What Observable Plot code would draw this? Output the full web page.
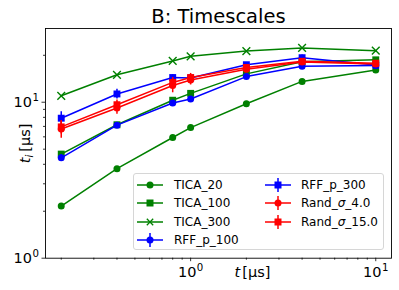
<!DOCTYPE html>
<html><head><meta charset="utf-8">
<script src="https://cdn.jsdelivr.net/npm/d3@7"></script>
<script src="https://cdn.jsdelivr.net/npm/@observablehq/plot@0.6"></script>
<style>
body{margin:0;background:#fff;}
#wrap{position:relative;width:399px;height:290px;font-family:"DejaVu Sans",sans-serif;}
#legend{position:absolute;left:133px;top:173px;width:251px;height:77px;border:1px solid #d6d6d6;border-radius:3px;background:rgba(255,255,255,0.8);box-sizing:border-box;}
.item{position:absolute;height:18px;line-height:18px;font-size:12px;color:#000;white-space:nowrap;}
.item svg{position:absolute;top:2px;}
</style></head><body><div id="wrap"></div>
<script>
// ---- data ----
const xs = [0.2, 0.4, 0.8, 1, 2, 4, 10];
const seriesNames = ["TICA_20", "TICA_100", "TICA_300", "RFF_p_100", "RFF_p_300", "Rand_σ_4.0", "Rand_σ_15.0"];
const tica20  = [2.16, 3.75, 5.94, 6.88, 9.78, 13.6, 16.1];
const tica100 = [4.65, 7.17, 10.3, 11.4, 15.2, 18.2, 18.7];
const tica300 = [11.0, 15.0, 18.4, 19.7, 21.3, 22.3, 21.4];
const rff100  = [4.4, 7.13, 9.88, 10.5, 14.6, 17.0, 17.2];
const rff300  = [7.9, 11.3, 14.4, 14.3, 17.4, 19.3, 17.3];
const rand4   = [6.73, 9.18, 12.8, 13.9, 16.3, 18.1, 17.6];
const rand15  = [6.95, 9.64, 13.4, 14.4, 16.7, 18.3, 17.8];
const rff100Err = [0.2, 0.2, 0.2, 0.2, 0.3, 0.3, 0.3];
const rff300Err = [0.8, 0.8, 0.6, 0.5, 0.5, 0.8, 0.4];
const rand4Err  = [0.85, 0.8, 1.3, 1.0, 0.5, 0.4, 0.4];
const rand15Err = [0.7, 0.7, 1.0, 0.9, 0.5, 0.4, 0.4];
const xMajor = [1, 10];
const xMajorLabels = ["10⁰", "10¹"];
const xMinor = [0.2, 0.3, 0.4, 0.5, 0.6, 0.7, 0.8, 0.9, 2, 3, 4, 5, 6, 7, 8, 9];
const yMajor = [1, 10];
const yMajorLabels = ["10⁰", "10¹"];
const yMinor = [2, 3, 4, 5, 6, 7, 8, 9, 20];
const titleText = "B: Timescales";
const xLabel = "t [μs]";
const yLabel = "t_i [μs]";

const green = "#008000", blue = "#0000ff", red = "#ff0000";
const series = [
  {name: seriesNames[0], v: tica20, err: null, color: green, symbol: "circle"},
  {name: seriesNames[1], v: tica100, err: null, color: green, symbol: "square"},
  {name: seriesNames[2], v: tica300, err: null, color: green, symbol: "times"},
  {name: seriesNames[3], v: rff100, err: rff100Err, color: blue, symbol: "circle"},
  {name: seriesNames[4], v: rff300, err: rff300Err, color: blue, symbol: "square"},
  {name: seriesNames[5], v: rand4, err: rand4Err, color: red, symbol: "circle"},
  {name: seriesNames[6], v: rand15, err: rand15Err, color: red, symbol: "square"}
];

const marks = [];
for (const s of series) {
  const data = xs.map((x, i) => ({x, y: s.v[i], e: s.err ? s.err[i] : 0}));
  marks.push(Plot.line(data, {x: "x", y: "y", stroke: s.color, strokeWidth: 1.5}));
  if (s.err) marks.push(Plot.ruleX(data, {x: "x", y1: d => d.y - d.e, y2: d => d.y + d.e, stroke: s.color, strokeWidth: 1.5}));
  if (s.symbol === "times") {
    marks.push(Plot.dot(data, {x: "x", y: "y", symbol: "times", r: 3.6, stroke: s.color, strokeWidth: 1.4, fill: "none"}));
  } else {
    marks.push(Plot.dot(data, {x: "x", y: "y", symbol: s.symbol, r: s.symbol === "square" ? 3.9 : 3.5, fill: s.color, stroke: "none"}));
  }
}

const chart = Plot.plot({
  width: 399, height: 290,
  marginLeft: 45, marginRight: 8, marginTop: 28, marginBottom: 32.3,
  style: {fontFamily: "DejaVu Sans", fontSize: "14.5px", color: "#000", background: "#fff"},
  x: {type: "log", domain: [Math.pow(10, -0.784), Math.pow(10, 1.085)]},
  y: {type: "log", domain: [1, 29.7]},
  marks: [
    ...marks,
    Plot.frame({stroke: "#000", strokeWidth: 0.9}),
    Plot.axisX({ticks: xMinor, tickSize: 2, tickFormat: () => "", label: null, strokeWidth: 0.8}),
    Plot.axisX({ticks: xMajor, tickSize: 3.5, tickPadding: 5, tickFormat: d => xMajorLabels[xMajor.indexOf(d)], label: null, fontSize: 14.5, strokeWidth: 0.8}),
    Plot.axisY({ticks: yMinor, tickSize: 2, tickFormat: () => "", label: null, strokeWidth: 0.8}),
    Plot.axisY({ticks: yMajor, tickSize: 3.5, tickPadding: 3, tickFormat: d => yMajorLabels[yMajor.indexOf(d)], label: null, fontSize: 14.5, strokeWidth: 0.8}),
    Plot.text([titleText], {frameAnchor: "top", text: d => d, fontSize: 19.5, dy: -11.5, lineAnchor: "middle"}),
    Plot.text([xLabel], {frameAnchor: "bottom", text: d => d, fontSize: 14.5, dx: 34, dy: 13.7, lineAnchor: "middle", textAnchor: "middle"}),
    Plot.text([yLabel], {frameAnchor: "left", text: d => d, fontSize: 14.5, dx: -20, dy: 0, rotate: -90, lineAnchor: "middle", textAnchor: "middle"})
  ]
});

// style the labels like mathtext
const supMap = {"⁰": "0", "¹": "1"};
d3.select(chart).selectAll("text").each(function() {
  const t = this.textContent;
  const sel = d3.select(this);
  if (t === xLabel) {
    this.textContent = "";
    sel.append("tspan").attr("font-style", "italic").text("t");
    sel.append("tspan").text("[μs]").attr("dx", 2);
  } else if (t === yLabel) {
    this.textContent = "";
    sel.append("tspan").attr("font-style", "italic").text("t");
    sel.append("tspan").attr("font-style", "italic").attr("font-size", "10px").attr("dy", 3).text("i");
    sel.append("tspan").attr("dy", -3).attr("dx", 3).text("[μs]");
  } else if (t.length === 3 && t.startsWith("10") && supMap[t[2]] !== undefined) {
    this.textContent = "";
    sel.append("tspan").text("10");
    sel.append("tspan").attr("font-size", "10.2px").attr("dy", -6).attr("dx", 0.5).text(supMap[t[2]]);
  }
});

const wrap = document.getElementById("wrap");
wrap.appendChild(chart);

// legend
const legend = document.createElement("div");
legend.id = "legend";
wrap.appendChild(legend);
const rowCenters = [11, 29.3, 47.6, 65.8];
series.forEach((s, i) => {
  const col = i < 4 ? 0 : 1;
  const row = i < 4 ? i : i - 4;
  const lineX = col === 0 ? 3 : 131;
  const textX = col === 0 ? 40 : 167;
  const cy = rowCenters[row];
  const item = document.createElement("div");
  item.className = "item";
  item.style.left = "0px";
  item.style.top = (cy - 9) + "px";
  const svg = d3.create("svg").attr("width", 26).attr("height", 14).style("left", lineX + "px");
  svg.append("line").attr("x1", 0).attr("x2", 26).attr("y1", 7).attr("y2", 7).attr("stroke", s.color).attr("stroke-width", 1.5);
  if (s.err) svg.append("line").attr("x1", 13).attr("x2", 13).attr("y1", 0).attr("y2", 14).attr("stroke", s.color).attr("stroke-width", 1.5);
  const sym = s.symbol === "circle" ? d3.symbolCircle : s.symbol === "square" ? d3.symbolSquare : d3.symbolTimes;
  const size = s.symbol === "circle" ? Math.PI * 3.5 * 3.5 : s.symbol === "square" ? 49 : Math.PI * 3 * 3;
  const p = svg.append("path").attr("transform", "translate(13,7)").attr("d", d3.symbol(sym, size)());
  if (s.symbol === "times") p.attr("fill", "none").attr("stroke", s.color).attr("stroke-width", 1.3);
  else p.attr("fill", s.color);
  item.appendChild(svg.node());
  const span = document.createElement("span");
  span.style.position = "absolute";
  span.style.left = textX + "px";
  const parts = s.name.split("σ");
  if (parts.length === 2) {
    span.innerHTML = parts[0] + "<i>σ</i>" + parts[1];
  } else {
    span.textContent = s.name;
  }
  item.appendChild(span);
  legend.appendChild(item);
});
</script>
</body></html>
